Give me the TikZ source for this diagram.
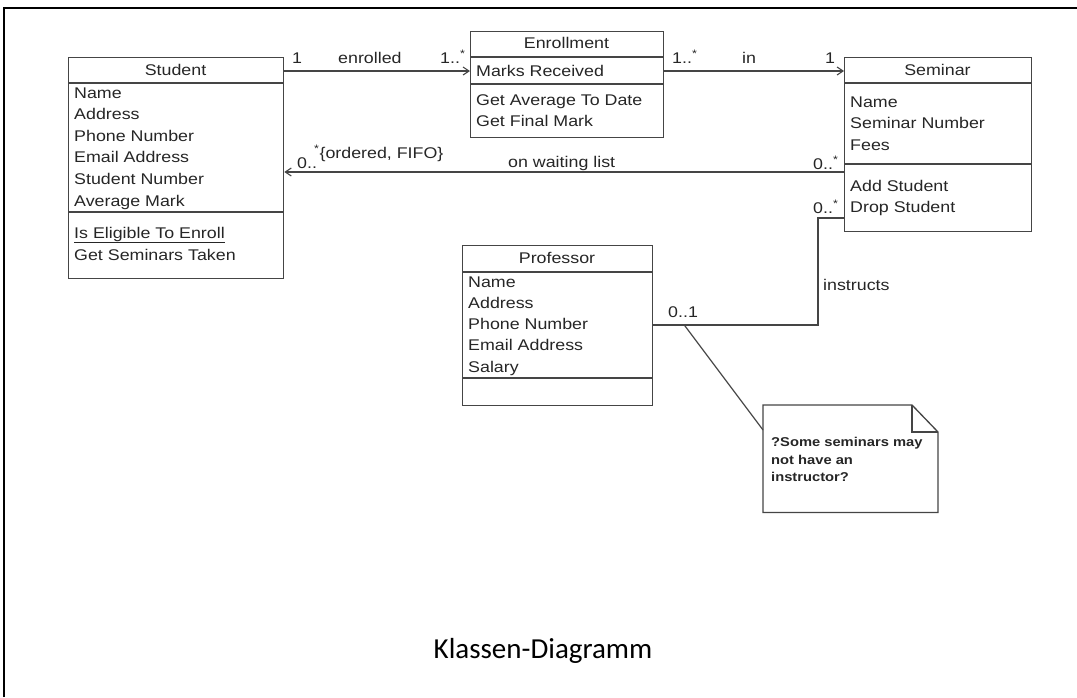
\documentclass[tikz,border=0pt]{standalone}
\usepackage{fontspec}
\setmainfont{Liberation Sans}[FakeStretch=1.15]
\newfontfamily\capfont{Carlito}
\usetikzlibrary{arrows.meta,calc}
\definecolor{boxline}{HTML}{454545}
\definecolor{txt}{HTML}{262626}
\begin{document}
\begin{tikzpicture}[x=1pt,y=-1pt,
  classbox/.style={draw=boxline,line width=1.3pt,anchor=north west,inner sep=0pt,fill=white},
  sep/.style={draw=boxline,line width=1.3pt},
  ttl/.style={anchor=base,inner sep=0pt,text=txt,font=\fontsize{15.5}{18}\selectfont},
  attr/.style={anchor=base west,inner sep=0pt,text=txt,font=\fontsize{15.5}{18}\selectfont},
  lbl/.style={anchor=base west,inner sep=0pt,text=txt,font=\fontsize{15.5}{18}\selectfont},
  assoc/.style={draw=boxline,line width=1.2pt},
  nav/.style={assoc,-{Straight Barb[length=6pt,width=8pt,line width=1.1pt]}},
  notetxt/.style={anchor=base west,inner sep=0pt,text=txt,font=\fontsize{12.8}{15}\selectfont\bfseries}
]
\useasboundingbox (0,0) rectangle (1077,697);
% outer frame (left and top only)
\draw[line width=2pt,black] (4,697) -- (4,8) -- (1077,8);

% ---------- Student ----------
\node[classbox,minimum width=215pt,minimum height=221pt] (student) at (68,57) {};
\draw[sep] (student.north west) ++(0,26) -- ++(215,0);
\draw[sep] (student.north west) ++(0,155) -- ++(215,0);
\node[ttl] (studentT) at (175.5,75) {Student};
\foreach \t [count=\i] in {Name,Address,Phone Number,Email Address,Student Number,Average Mark}
  \node[attr] (stA\i) at (74,{98+(\i-1)*21.6}) {\t};
\node[attr] (stO1) at (74,238) {\underline{Is Eligible To Enroll}};
\node[attr] (stO2) at (74,260) {Get Seminars Taken};

% ---------- Enrollment ----------
\node[classbox,minimum width=193pt,minimum height=106pt] (enroll) at (470,31) {};
\draw[sep] (enroll.north west) ++(0,26) -- ++(193,0);
\draw[sep] (enroll.north west) ++(0,53) -- ++(193,0);
\node[ttl] (enrollT) at (566.5,48) {Enrollment};
\node[attr] (enA1) at (476,76) {Marks Received};
\node[attr] (enO1) at (476,105) {Get Average To Date};
\node[attr] (enO2) at (476,126) {Get Final Mark};

% ---------- Seminar ----------
\node[classbox,minimum width=187pt,minimum height=174pt] (seminar) at (844,57) {};
\draw[sep] (seminar.north west) ++(0,26) -- ++(187,0);
\draw[sep] (seminar.north west) ++(0,107) -- ++(187,0);
\node[ttl] (seminarT) at (937.5,75) {Seminar};
\node[attr] (seA1) at (850,107) {Name};
\node[attr] (seA2) at (850,128.5) {Seminar Number};
\node[attr] (seA3) at (850,150) {Fees};
\node[attr] (seO1) at (850,191) {Add Student};
\node[attr] (seO2) at (850,212) {Drop Student};

% ---------- Professor ----------
\node[classbox,minimum width=190pt,minimum height=160pt] (prof) at (462,245) {};
\draw[sep] (prof.north west) ++(0,27) -- ++(190,0);
\draw[sep] (prof.north west) ++(0,133) -- ++(190,0);
\node[ttl] (profT) at (557,263) {Professor};
\foreach \t [count=\i] in {Name,Address,Phone Number,Email Address,Salary}
  \node[attr] (prA\i) at (468,{287+(\i-1)*21.25}) {\t};

% ---------- Note ----------
\node[anchor=north west,inner sep=0pt,minimum width=175pt,minimum height=107pt] (note) at (763,405) {};
\draw[boxline,line width=1.3pt,fill=white]
  (note.north west) -- ++(149,0) -- ++(26,27) |- (note.south west) -- cycle;
\draw[boxline,line width=1.3pt] (note.north west) ++(149,0) -- ++(0,27) -- ++(26,0);
\node[notetxt] (noteL1) at (771,446) {?Some seminars may};
\node[notetxt] (noteL2) at (771,464) {not have an};
\node[notetxt] (noteL3) at (771,481) {instructor?};

% ---------- Associations ----------
\draw[nav] ([yshift=-14pt]student.north east) -- ([yshift=-40pt]enroll.north west);
\node[lbl] (m1) at (292,63) {1};
\node[lbl] (enrolledL) at (338,63) {enrolled};
\node[lbl] (m2) at (440,63) {1..\textsuperscript{*}};

\draw[nav] ([yshift=-40pt]enroll.north east) -- ([yshift=-14pt]seminar.north west);
\node[lbl] (m3) at (672,63) {1..\textsuperscript{*}};
\node[lbl] (inL) at (742,63) {in};
\node[lbl] (m4) at (825,63) {1};

\draw[nav] ([yshift=-115pt]seminar.north west) -- ([yshift=-115pt]student.north east);
\node[lbl] (m5) at (297,168) {0..};
\node[lbl] (m5s) at (314,158) {\textsuperscript{*}\{ordered, FIFO\}};
\node[lbl] (waitL) at (508,167) {on waiting list};
\node[lbl] (m6) at (813,169) {0..\textsuperscript{*}};

\draw[assoc] ([yshift=-161pt]seminar.north west) -- ++(-26,0) |- ([yshift=-80pt]prof.north east);
\coordinate (nc) at ([xshift=31pt,yshift=-80pt]prof.north east);
\node[lbl] (m7) at (813,213) {0..\textsuperscript{*}};
\node[lbl] (instrL) at (823,290) {instructs};
\node[lbl] (m8) at (668,317) {0..1};

\draw[assoc] (nc) -- ([yshift=-25pt]note.north west);

% ---------- Caption ----------
\node[anchor=base,inner sep=0pt,text=black,font=\capfont\fontsize{29}{34}\selectfont] (caption) at (543,658) {Klassen-Diagramm};
\end{tikzpicture}
\end{document}
